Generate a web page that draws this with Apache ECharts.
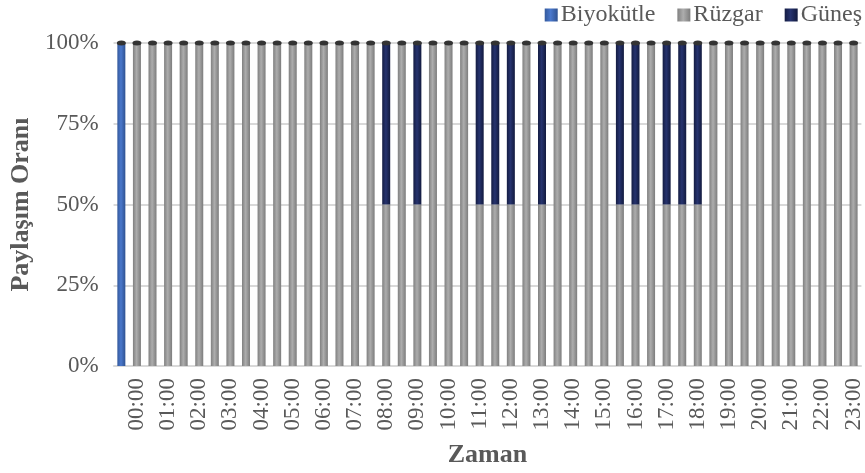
<!DOCTYPE html>
<html>
<head>
<meta charset="utf-8">
<script src="https://cdn.jsdelivr.net/npm/echarts@6/dist/echarts.min.js"></script>
<style>
  html, body { margin: 0; padding: 0; background: #ffffff; }
  #chart { width: 865px; height: 473px; }
</style>
</head>
<body>
<div id="chart"></div>
<script>
// Categories: half-hour slots; the first slot precedes 00:00
const categories = [
  "23:30","00:00","00:30","01:00","01:30","02:00","02:30","03:00","03:30","04:00","04:30","05:00",
  "05:30","06:00","06:30","07:00","07:30","08:00","08:30","09:00","09:30","10:00","10:30","11:00",
  "11:30","12:00","12:30","13:00","13:30","14:00","14:30","15:00","15:30","16:00","16:30","17:00",
  "17:30","18:00","18:30","19:00","19:30","20:00","20:30","21:00","21:30","22:00","22:30","23:00"
];

const biyokutle = [
  100,0,0,0,0,0,0,0,0,0,0,0,
  0,0,0,0,0,0,0,0,0,0,0,0,
  0,0,0,0,0,0,0,0,0,0,0,0,
  0,0,0,0,0,0,0,0,0,0,0,0
];

const ruzgar = [
  0,100,100,100,100,100,100,100,100,100,100,100,
  100,100,100,100,100,50,100,50,100,100,100,50,
  50,50,100,50,100,100,100,100,50,50,100,50,
  50,50,100,100,100,100,100,100,100,100,100,100
];

const gunes = [
  0,0,0,0,0,0,0,0,0,0,0,0,
  0,0,0,0,0,50,0,50,0,0,0,50,
  50,50,0,50,0,0,0,0,50,50,0,50,
  50,50,0,0,0,0,0,0,0,0,0,0
];

const yTicks = [0, 25, 50, 75, 100];

const totals = categories.map((c, i) => biyokutle[i] + ruzgar[i] + gunes[i]);

const FONT = '"Liberation Serif", "Times New Roman", serif';
const TXT = '#595959';

function cyl(c1, c2, c3) {
  return new echarts.graphic.LinearGradient(0, 0, 1, 0, [
    { offset: 0, color: c1 },
    { offset: 0.45, color: c2 },
    { offset: 1, color: c3 }
  ]);
}

const chart = echarts.init(document.getElementById('chart'), null, { renderer: 'canvas' });

chart.setOption({
  animation: false,
  backgroundColor: '#ffffff',
  textStyle: { fontFamily: FONT },
  legend: {
    right: 3,
    top: 3,
    padding: 0,
    itemWidth: 13,
    itemHeight: 13,
    itemGap: 22,
    icon: 'rect',
    textStyle: { fontFamily: FONT, fontSize: 24, color: TXT, padding: [0, 0, 0, -2] },
    data: ['Biyokütle', 'Rüzgar', 'Güneş']
  },
  grid: { left: 106, right: 1, top: 43, bottom: 100, containLabel: false },
  xAxis: {
    type: 'category',
    data: categories,
    name: 'Zaman',
    nameLocation: 'middle',
    nameGap: 76,
    nameTextStyle: { fontFamily: FONT, fontSize: 26, fontWeight: 'bold', color: TXT },
    axisLine: { lineStyle: { color: '#d9d9d9', width: 1.5 } },
    axisTick: { show: false },
    axisLabel: {
      rotate: 90,
      margin: 12,
      fontFamily: FONT,
      fontSize: 23,
      color: TXT,
      interval: function (index) { return index % 2 === 1; }
    }
  },
  yAxis: {
    type: 'value',
    min: 0,
    max: 100,
    interval: 25,
    name: 'Paylaşım Oranı',
    nameLocation: 'middle',
    nameRotate: 90,
    nameGap: 72,
    nameTextStyle: { fontFamily: FONT, fontSize: 26, fontWeight: 'bold', color: TXT },
    axisLine: { show: false },
    axisTick: { show: false },
    axisLabel: {
      margin: 15,
      fontFamily: FONT,
      fontSize: 23,
      color: TXT,
      formatter: function (v) { return yTicks.indexOf(v) >= 0 ? v + '%' : ''; }
    },
    splitLine: { lineStyle: { color: '#d9d9d9', width: 2 } }
  },
  series: [
    {
      name: 'Biyokütle',
      type: 'bar',
      stack: 'total',
      data: biyokutle,
      barWidth: 8,
      itemStyle: { color: cyl('#34599c', '#4a78cc', '#2f5291') }
    },
    {
      name: 'Rüzgar',
      type: 'bar',
      stack: 'total',
      data: ruzgar,
      barWidth: 8,
      itemStyle: { color: cyl('#808080', '#adadad', '#7c7c7c') }
    },
    {
      name: 'Güneş',
      type: 'bar',
      stack: 'total',
      data: gunes,
      barWidth: 8,
      itemStyle: { color: cyl('#141c42', '#26336e', '#121a3e') }
    },
    {
      name: 'cap',
      type: 'scatter',
      data: totals,
      symbol: 'circle',
      symbolSize: [9, 5],
      itemStyle: { color: '#333333', opacity: 1 },
      silent: true,
      z: 10
    }
  ]
});
</script>
</body>
</html>
